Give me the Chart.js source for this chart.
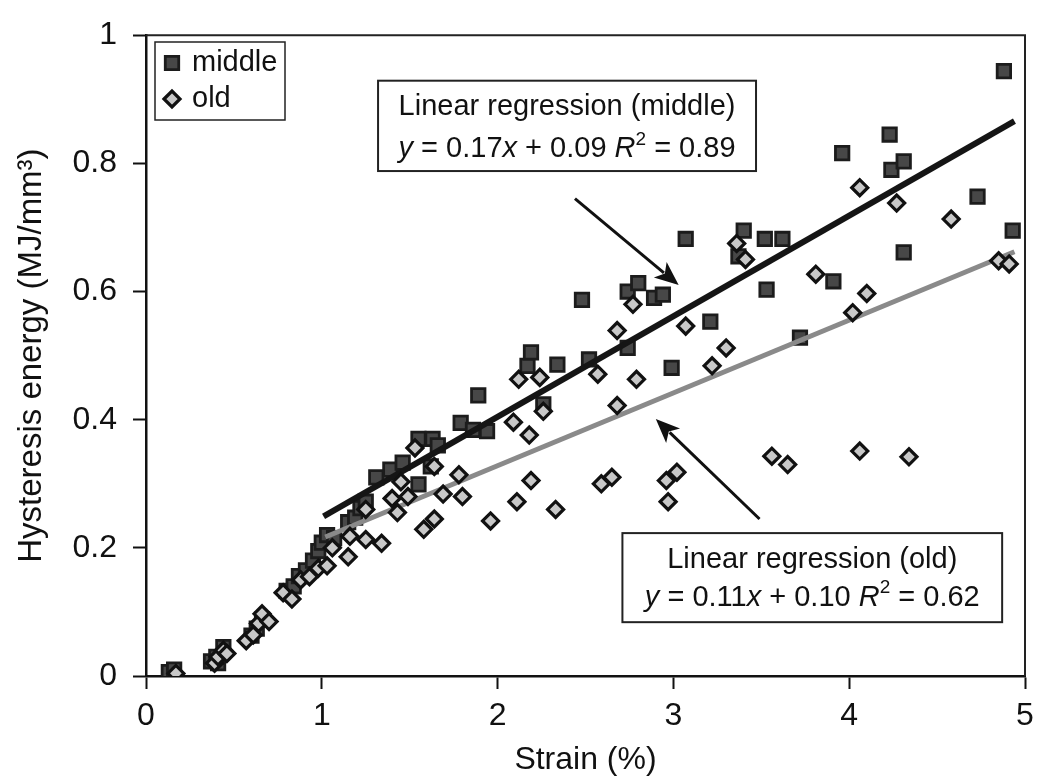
<!DOCTYPE html>
<html>
<head>
<meta charset="utf-8">
<script src="https://cdn.jsdelivr.net/npm/chart.js@4.4.1/dist/chart.umd.min.js"></script>
<style>
  html, body { margin: 0; padding: 0; background: #fff; }
  #wrap { width: 1050px; height: 779px; position: relative; }
</style>
</head>
<body>
<div id="wrap"><canvas id="chart"></canvas></div>
<script>
// Strain (%) and hysteresis energy (MJ/mm3)
const middleX = [0.13, 0.16, 0.37, 0.41, 0.40, 0.44, 0.60, 0.63, 0.66, 0.80, 0.84, 0.87, 0.91, 0.95, 0.98, 1.00, 1.03, 1.07,
  1.15, 1.19, 1.22, 1.25, 1.31, 1.39, 1.46, 1.55, 1.63, 1.66, 1.55, 1.62, 1.79, 1.89, 1.86, 1.94, 2.17, 2.19, 2.34, 2.26,
  2.48, 2.52, 2.74, 2.74, 2.80, 2.89, 2.94, 2.99, 3.07, 3.21, 3.37, 3.40, 3.52, 3.53, 3.62, 3.72, 3.91, 3.96, 4.23, 4.24,
  4.31, 4.31, 4.73, 4.88, 4.93];
const middleY = [0.006, 0.010, 0.023, 0.020, 0.030, 0.045, 0.063, 0.074, 0.088, 0.133, 0.140, 0.156, 0.165, 0.180, 0.195, 0.208, 0.220, 0.215,
  0.240, 0.247, 0.262, 0.272, 0.310, 0.322, 0.333, 0.370, 0.370, 0.360, 0.299, 0.327, 0.395, 0.438, 0.384, 0.382, 0.484, 0.505, 0.486, 0.424,
  0.587, 0.494, 0.512, 0.600, 0.613, 0.590, 0.595, 0.481, 0.682, 0.553, 0.655, 0.695, 0.682, 0.603, 0.682, 0.528, 0.616, 0.816, 0.845, 0.790,
  0.803, 0.661, 0.748, 0.944, 0.695];

const oldX = [0.17, 0.39, 0.41, 0.44, 0.46, 0.57, 0.61, 0.64, 0.66, 0.70, 0.78, 0.83, 0.88, 0.93, 0.98, 1.03, 1.06, 1.15,
  1.16, 1.25, 1.25, 1.34, 1.40, 1.43, 1.45, 1.49, 1.53, 1.58, 1.64, 1.64, 1.69, 1.78, 1.80, 1.96, 2.09, 2.11, 2.12, 2.18,
  2.19, 2.24, 2.26, 2.33, 2.57, 2.59, 2.65, 2.68, 2.68, 2.77, 2.79, 2.96, 2.97, 3.02, 3.07, 3.22, 3.30, 3.36, 3.41, 3.56,
  3.65, 3.81, 4.02, 4.06, 4.06, 4.10, 4.27, 4.34, 4.58, 4.85, 4.91];
const oldY = [0.004, 0.020, 0.030, 0.040, 0.035, 0.055, 0.064, 0.082, 0.097, 0.085, 0.130, 0.120, 0.150, 0.155, 0.168, 0.172, 0.200, 0.186,
  0.218, 0.213, 0.260, 0.207, 0.277, 0.255, 0.303, 0.280, 0.356, 0.229, 0.245, 0.327, 0.284, 0.314, 0.280, 0.242, 0.396, 0.272, 0.463, 0.376,
  0.305, 0.466, 0.413, 0.260, 0.471, 0.300, 0.310, 0.422, 0.539, 0.580, 0.463, 0.305, 0.272, 0.318, 0.546, 0.484, 0.512, 0.675, 0.650, 0.343,
  0.330, 0.627, 0.567, 0.351, 0.762, 0.597, 0.738, 0.342, 0.713, 0.648, 0.643];

// fitted lines, end points as drawn
const fitMiddleX = [1.01, 4.94];
const fitMiddleY = [0.249, 0.866];
const fitOldX = [1.02, 4.94];
const fitOldY = [0.217, 0.662];

const xTicks = [0, 1, 2, 3, 4, 5];
const yTicks = [0, 0.2, 0.4, 0.6, 0.8, 1];

const seriesNames = ['middle', 'old'];
const noteMiddle = ['Linear regression (middle)', [['y', 'i'], [' = 0.17', 'n'], ['x', 'i'], [' + 0.09 ', 'n'], ['R', 'i'], ['2', 's'], [' = 0.89', 'n']]];
const noteOld = ['Linear regression (old)', [['y', 'i'], [' = 0.11', 'n'], ['x', 'i'], [' + 0.10 ', 'n'], ['R', 'i'], ['2', 's'], [' = 0.62', 'n']]];

const pts = (xs, ys) => xs.map((x, i) => ({ x: x, y: ys[i] }));
const FONT = "'Liberation Sans', Arial, Helvetica, sans-serif";
const INK = '#111';

const middleStyle = { pointStyle: 'rect', radius: 9.5, backgroundColor: '#474747', borderColor: '#1c1c1c', borderWidth: 2.8 };
const oldStyle = { pointStyle: 'rectRot', radius: 8, backgroundColor: '#c8c8c8', borderColor: '#111', borderWidth: 3.2 };

function drawEquation(ctx, parts, cx, y, size) {
  const fontFor = (s) => s === 'i' ? `italic ${size}px ${FONT}` : s === 's' ? `${Math.round(size * 0.65)}px ${FONT}` : `${size}px ${FONT}`;
  let total = 0;
  const widths = parts.map(([t, s]) => { ctx.font = fontFor(s); const w = ctx.measureText(t).width; total += w; return w; });
  let x = cx - total / 2;
  ctx.textAlign = 'left';
  parts.forEach(([t, s], i) => {
    ctx.font = fontFor(s);
    ctx.fillText(t, x, s === 's' ? y - size * 0.42 : y);
    x += widths[i];
  });
}

function drawArrow(ctx, x1, y1, x2, y2) {
  const a = Math.atan2(y2 - y1, x2 - x1);
  const len = 24, half = 10;
  ctx.beginPath();
  ctx.moveTo(x1, y1);
  ctx.lineTo(x2 - Math.cos(a) * len * 0.8, y2 - Math.sin(a) * len * 0.8);
  ctx.lineWidth = 3;
  ctx.strokeStyle = INK;
  ctx.stroke();
  ctx.beginPath();
  ctx.moveTo(x2, y2);
  ctx.lineTo(x2 - Math.cos(a) * len + Math.sin(a) * half, y2 - Math.sin(a) * len - Math.cos(a) * half);
  ctx.lineTo(x2 - Math.cos(a) * len * 0.75, y2 - Math.sin(a) * len * 0.75);
  ctx.lineTo(x2 - Math.cos(a) * len - Math.sin(a) * half, y2 - Math.sin(a) * len + Math.cos(a) * half);
  ctx.closePath();
  ctx.fillStyle = INK;
  ctx.fill();
}

function noteBox(ctx, sx, sy, box, lines, note) {
  const l = sx.getPixelForValue(box[0]), r = sx.getPixelForValue(box[1]);
  const t = sy.getPixelForValue(box[2]), b = sy.getPixelForValue(box[3]);
  ctx.fillStyle = '#fff';
  ctx.fillRect(l, t, r - l, b - t);
  ctx.lineWidth = 2;
  ctx.strokeStyle = '#222';
  ctx.strokeRect(l, t, r - l, b - t);
  const cx = (l + r) / 2;
  ctx.fillStyle = INK;
  ctx.textBaseline = 'alphabetic';
  ctx.textAlign = 'center';
  ctx.font = `29px ${FONT}`;
  ctx.fillText(note[0], cx, sy.getPixelForValue(lines[0]));
  drawEquation(ctx, note[1], cx, sy.getPixelForValue(lines[1]), 29);
}

const extras = {
  id: 'extras',
  afterDraw(chart) {
    const { ctx, chartArea: a } = chart;
    const sx = chart.scales.x, sy = chart.scales.y;
    ctx.save();
    // frame on top and right
    ctx.strokeStyle = '#222';
    ctx.lineWidth = 2;
    ctx.beginPath();
    ctx.moveTo(a.left, a.top);
    ctx.lineTo(a.right, a.top);
    ctx.lineTo(a.right, a.bottom);
    ctx.stroke();

    // legend
    ctx.fillStyle = '#fff';
    ctx.fillRect(155, 42, 130, 78);
    ctx.lineWidth = 1.5;
    ctx.strokeStyle = '#222';
    ctx.strokeRect(155, 42, 130, 78);
    [middleStyle, oldStyle].forEach((st, i) => {
      const y = 63 + i * 36;
      ctx.fillStyle = st.backgroundColor;
      ctx.strokeStyle = st.borderColor;
      ctx.lineWidth = st.borderWidth;
      Chart.helpers.drawPoint(ctx, { pointStyle: st.pointStyle, radius: st.radius, rotation: 0, borderWidth: st.borderWidth }, 172, y);
      ctx.fillStyle = INK;
      ctx.font = `29px ${FONT}`;
      ctx.textAlign = 'left';
      ctx.textBaseline = 'middle';
      ctx.fillText(seriesNames[i], 192, y);
    });

    // notes and arrows
    noteBox(ctx, sx, sy, [1.32, 3.47, 0.929, 0.788], [0.875, 0.81], noteMiddle);
    noteBox(ctx, sx, sy, [2.71, 4.87, 0.223, 0.084], [0.169, 0.110], noteOld);
    drawArrow(ctx, sx.getPixelForValue(2.44), sy.getPixelForValue(0.745), sx.getPixelForValue(3.03), sy.getPixelForValue(0.61));
    drawArrow(ctx, sx.getPixelForValue(3.49), sy.getPixelForValue(0.245), sx.getPixelForValue(2.90), sy.getPixelForValue(0.401));
    ctx.restore();
  }
};

new Chart(document.getElementById('chart'), {
  data: {
    datasets: [
      { type: 'scatter', label: 'old', data: pts(oldX, oldY), order: 0, ...oldStyle, pointRadius: oldStyle.radius, pointHoverRadius: oldStyle.radius },
      { type: 'line', label: 'fit middle', data: pts(fitMiddleX, fitMiddleY), order: 1, borderColor: '#151515', borderWidth: 6, pointRadius: 0, fill: false },
      { type: 'line', label: 'fit old', data: pts(fitOldX, fitOldY), order: 2, borderColor: '#8a8a8a', borderWidth: 5, pointRadius: 0, fill: false },
      { type: 'scatter', label: 'middle', data: pts(middleX, middleY), order: 3, ...middleStyle, pointRadius: middleStyle.radius, pointHoverRadius: middleStyle.radius }
    ]
  },
  options: {
    responsive: true,
    maintainAspectRatio: false,
    animation: false,
    layout: { padding: { left: 0, right: 25, top: 30, bottom: 0 } },
    plugins: { legend: { display: false }, tooltip: { enabled: false } },
    scales: {
      x: {
        type: 'linear', min: 0, max: 5,
        afterBuildTicks: (s) => { s.ticks = xTicks.map(v => ({ value: v })); },
        afterFit: (s) => { s.height = 103; },
        ticks: { font: { family: FONT, size: 32 }, color: INK, padding: 8, maxRotation: 0 },
        grid: { drawOnChartArea: false, tickLength: 13, color: INK, tickWidth: 2 },
        border: { color: INK, width: 2.5 },
        title: { display: true, text: 'Strain (%)', font: { family: FONT, size: 32 }, color: INK, padding: { top: 0, bottom: 0 } }
      },
      y: {
        type: 'linear', min: 0, max: 1,
        afterBuildTicks: (s) => { s.ticks = yTicks.map(v => ({ value: v })); },
        afterFit: (s) => { s.width = 146; },
        ticks: { font: { family: FONT, size: 32 }, color: INK, padding: 16, callback: (v) => String(Number(v.toFixed(1))) },
        grid: { drawOnChartArea: false, tickLength: 13, color: INK, tickWidth: 2 },
        border: { color: INK, width: 2.5 },
        title: { display: true, text: 'Hysteresis energy (MJ/mm³)', font: { family: FONT, size: 33 }, color: INK, padding: { top: 12, bottom: 0 } }
      }
    }
  },
  plugins: [extras]
});
</script>
</body>
</html>
